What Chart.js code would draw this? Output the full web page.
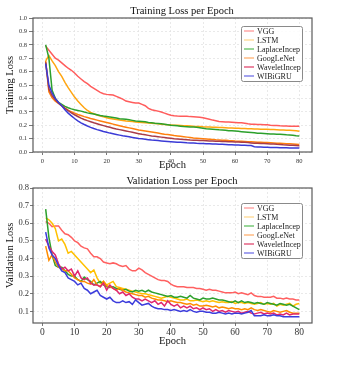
<!DOCTYPE html>
<html>
<head>
<meta charset="utf-8">
<script src="https://cdn.jsdelivr.net/npm/chart.js@4/dist/chart.umd.min.js"></script>
<style>
  html, body { margin: 0; padding: 0; background: #fff; overflow: hidden; }
  .panel { position: absolute; left: 0; width: 338px; }
  #p1 { top: 0; height: 175px; }
  #p2 { top: 175px; height: 190px; }
</style>
</head>
<body>
<div class="panel" id="p1"><canvas id="trainChart"></canvas></div>
<div class="panel" id="p2"><canvas id="valChart"></canvas></div>
<script>
// epochs 1..80
const epochs = Array.from({ length: 80 }, (_, i) => i + 1);
const models = ['VGG', 'LSTM', 'LaplaceIncep', 'GoogLeNet', 'WaveletIncep', 'WIBiGRU'];

// training loss
const trainVGG = [0.79,0.76,0.73,0.70,0.685,0.665,0.645,0.625,0.61,0.59,0.565,0.545,0.525,0.51,0.49,0.475,0.46,0.445,0.435,0.43,
  0.428,0.425,0.415,0.405,0.395,0.38,0.375,0.37,0.365,0.365,0.355,0.345,0.325,0.315,0.31,0.305,0.298,0.29,0.282,0.275,
  0.27,0.268,0.267,0.266,0.266,0.264,0.263,0.262,0.26,0.255,0.25,0.245,0.238,0.233,0.228,0.226,0.224,0.223,0.222,0.22,
  0.218,0.218,0.214,0.21,0.208,0.207,0.206,0.205,0.204,0.204,0.2,0.198,0.197,0.195,0.194,0.194,0.193,0.193,0.192,0.192];
const trainLSTM = [0.68,0.72,0.68,0.645,0.60,0.565,0.52,0.48,0.445,0.41,0.38,0.355,0.33,0.31,0.295,0.285,0.276,0.268,0.262,0.256,
  0.25,0.246,0.242,0.238,0.235,0.232,0.23,0.227,0.224,0.222,0.22,0.218,0.216,0.214,0.212,0.21,0.208,0.206,0.204,0.202,
  0.2,0.199,0.198,0.196,0.195,0.194,0.192,0.191,0.19,0.188,0.187,0.186,0.185,0.184,0.183,0.182,0.181,0.18,0.179,0.178,
  0.177,0.176,0.175,0.174,0.173,0.172,0.171,0.17,0.17,0.169,0.168,0.167,0.166,0.165,0.164,0.163,0.162,0.16,0.158,0.155];
const trainLaplace = [0.80,0.70,0.46,0.40,0.37,0.355,0.34,0.33,0.322,0.315,0.31,0.305,0.298,0.292,0.288,0.284,0.278,0.272,0.268,0.265,
  0.262,0.258,0.253,0.248,0.246,0.244,0.24,0.236,0.232,0.23,0.228,0.225,0.22,0.218,0.215,0.213,0.21,0.207,0.204,0.2,
  0.198,0.196,0.193,0.19,0.189,0.187,0.186,0.184,0.181,0.178,0.174,0.172,0.17,0.168,0.166,0.165,0.162,0.158,0.158,0.156,
  0.154,0.152,0.15,0.148,0.146,0.143,0.14,0.139,0.138,0.137,0.135,0.134,0.133,0.132,0.13,0.128,0.127,0.125,0.122,0.12];
const trainGoogLeNet = [0.68,0.45,0.405,0.38,0.362,0.345,0.328,0.312,0.3,0.29,0.28,0.272,0.264,0.257,0.25,0.244,0.238,0.232,0.226,0.22,
  0.214,0.208,0.202,0.196,0.19,0.185,0.18,0.175,0.17,0.165,0.161,0.157,0.153,0.149,0.145,0.141,0.137,0.133,0.13,0.127,
  0.123,0.12,0.117,0.114,0.111,0.108,0.105,0.103,0.101,0.099,0.097,0.095,0.093,0.091,0.09,0.088,0.087,0.085,0.084,0.082,
  0.081,0.08,0.079,0.077,0.076,0.075,0.073,0.072,0.071,0.07,0.069,0.068,0.066,0.065,0.064,0.062,0.061,0.06,0.058,0.056];
const trainWavelet = [0.67,0.47,0.42,0.39,0.365,0.345,0.325,0.308,0.292,0.278,0.265,0.253,0.243,0.234,0.226,0.218,0.211,0.204,0.197,0.19,
  0.184,0.178,0.172,0.167,0.162,0.157,0.152,0.147,0.142,0.137,0.132,0.128,0.124,0.12,0.117,0.114,0.111,0.108,0.105,0.102,
  0.099,0.097,0.095,0.093,0.091,0.089,0.088,0.087,0.086,0.085,0.084,0.083,0.082,0.081,0.08,0.079,0.078,0.077,0.076,0.075,
  0.074,0.073,0.072,0.07,0.068,0.066,0.065,0.064,0.063,0.062,0.06,0.059,0.057,0.056,0.054,0.053,0.051,0.05,0.048,0.046];
const trainWIBiGRU = [0.66,0.50,0.44,0.40,0.37,0.345,0.315,0.29,0.27,0.25,0.233,0.218,0.205,0.194,0.184,0.175,0.167,0.16,0.153,0.147,
  0.141,0.136,0.131,0.126,0.121,0.117,0.113,0.109,0.105,0.101,0.098,0.095,0.092,0.089,0.087,0.085,0.083,0.081,0.079,0.077,
  0.075,0.073,0.072,0.071,0.069,0.068,0.067,0.065,0.064,0.063,0.062,0.061,0.06,0.059,0.058,0.057,0.056,0.055,0.054,0.053,
  0.052,0.051,0.05,0.049,0.048,0.04,0.038,0.037,0.036,0.035,0.034,0.033,0.033,0.032,0.031,0.031,0.03,0.03,0.029,0.029];

// validation loss
const valVGG = [0.61,0.60,0.58,0.585,0.585,0.56,0.54,0.535,0.52,0.50,0.49,0.47,0.46,0.455,0.43,0.41,0.41,0.40,0.38,0.375,
  0.37,0.375,0.37,0.36,0.355,0.36,0.34,0.33,0.33,0.345,0.335,0.32,0.31,0.30,0.29,0.28,0.275,0.275,0.27,0.255,
  0.245,0.24,0.24,0.24,0.235,0.235,0.235,0.23,0.23,0.225,0.22,0.225,0.22,0.22,0.215,0.21,0.205,0.205,0.205,0.21,
  0.20,0.205,0.20,0.195,0.205,0.19,0.185,0.185,0.18,0.18,0.18,0.185,0.175,0.175,0.17,0.175,0.17,0.17,0.165,0.165];
const valLSTM = [0.63,0.62,0.60,0.57,0.50,0.51,0.48,0.43,0.44,0.42,0.40,0.38,0.36,0.34,0.32,0.335,0.29,0.26,0.27,0.25,
  0.26,0.27,0.24,0.235,0.23,0.225,0.22,0.215,0.21,0.205,0.20,0.20,0.195,0.19,0.185,0.18,0.175,0.18,0.185,0.18,
  0.175,0.17,0.165,0.165,0.17,0.16,0.16,0.165,0.16,0.155,0.16,0.155,0.16,0.155,0.15,0.155,0.15,0.15,0.155,0.145,
  0.15,0.15,0.145,0.15,0.145,0.14,0.145,0.15,0.14,0.145,0.14,0.145,0.13,0.14,0.135,0.14,0.145,0.13,0.14,0.145];
const valLaplace = [0.68,0.52,0.42,0.36,0.35,0.35,0.33,0.31,0.30,0.30,0.28,0.27,0.295,0.28,0.27,0.25,0.26,0.27,0.25,0.24,
  0.235,0.24,0.23,0.225,0.22,0.225,0.215,0.21,0.22,0.215,0.22,0.21,0.22,0.21,0.205,0.20,0.195,0.19,0.185,0.19,
  0.18,0.18,0.185,0.18,0.175,0.19,0.175,0.17,0.165,0.175,0.17,0.17,0.175,0.17,0.165,0.165,0.16,0.155,0.15,0.16,
  0.15,0.16,0.15,0.155,0.15,0.145,0.15,0.145,0.14,0.15,0.145,0.14,0.135,0.145,0.14,0.135,0.14,0.13,0.12,0.11];
const valGoogLeNet = [0.47,0.39,0.42,0.38,0.35,0.34,0.33,0.33,0.31,0.29,0.28,0.27,0.27,0.26,0.255,0.28,0.25,0.24,0.27,0.245,
  0.24,0.23,0.22,0.23,0.22,0.21,0.205,0.20,0.195,0.19,0.19,0.18,0.185,0.175,0.17,0.165,0.165,0.16,0.155,0.16,
  0.155,0.15,0.15,0.145,0.14,0.145,0.135,0.14,0.13,0.13,0.135,0.13,0.125,0.13,0.12,0.125,0.12,0.115,0.12,0.115,
  0.115,0.11,0.115,0.11,0.12,0.11,0.105,0.11,0.105,0.10,0.095,0.105,0.10,0.095,0.10,0.105,0.095,0.09,0.09,0.09];
const valWavelet = [0.51,0.47,0.44,0.42,0.37,0.34,0.35,0.33,0.34,0.30,0.33,0.29,0.28,0.29,0.26,0.25,0.25,0.24,0.26,0.22,
  0.25,0.23,0.22,0.20,0.21,0.19,0.20,0.18,0.17,0.17,0.16,0.17,0.16,0.15,0.16,0.14,0.15,0.13,0.16,0.14,
  0.13,0.14,0.12,0.13,0.12,0.13,0.115,0.12,0.11,0.12,0.11,0.115,0.10,0.11,0.10,0.105,0.095,0.105,0.10,0.095,
  0.10,0.09,0.095,0.10,0.09,0.085,0.09,0.095,0.085,0.09,0.085,0.09,0.08,0.085,0.08,0.09,0.08,0.085,0.085,0.085];
const valWIBiGRU = [0.55,0.46,0.42,0.40,0.36,0.33,0.32,0.29,0.28,0.27,0.25,0.26,0.23,0.22,0.20,0.21,0.22,0.19,0.18,0.17,
  0.18,0.16,0.15,0.15,0.16,0.15,0.155,0.14,0.165,0.15,0.135,0.14,0.145,0.13,0.12,0.115,0.115,0.11,0.11,0.105,
  0.11,0.105,0.10,0.105,0.10,0.11,0.10,0.095,0.10,0.10,0.095,0.095,0.09,0.09,0.095,0.09,0.085,0.09,0.085,0.09,
  0.09,0.085,0.09,0.095,0.105,0.075,0.075,0.075,0.08,0.075,0.075,0.08,0.075,0.075,0.07,0.07,0.07,0.07,0.07,0.07];

const trainSeries = [trainVGG, trainLSTM, trainLaplace, trainGoogLeNet, trainWavelet, trainWIBiGRU];
const valSeries = [valVGG, valLSTM, valLaplace, valGoogLeNet, valWavelet, valWIBiGRU];
const trainColors = ['#ff5c5c', '#ffa510', '#2ca02c', '#ff7f0e', '#a83c4a', '#3b3bd6'];
const valColors = ['#ff6060', '#ffc000', '#2ca02c', '#ff8c00', '#e0286e', '#3c3cdc'];
const legendColors = ['#ff9a9a', '#ffd890', '#62c062', '#ffb070', '#e04a70', '#7272e6'];
const trainYTicks = { min: 0, max: 1, step: 0.1 };
const valYTicks = { min: 0.034, max: 0.8, step: 0.1 };

const SERIF = '"Liberation Serif", "DejaVu Serif", serif';

// title centred over the plot like matplotlib does
const panelTitle = {
  id: 'panelTitle',
  afterDraw(chart, args, opts) {
    const ctx = chart.ctx;
    ctx.save();
    ctx.font = opts.size + 'px ' + SERIF;
    ctx.fillStyle = '#111';
    ctx.textAlign = 'center';
    ctx.textBaseline = 'middle';
    ctx.fillText(opts.text, opts.x, opts.y);
    ctx.restore();
  }
};

// box round the plot area
const frame = {
  id: 'frame',
  afterDatasetsDraw(chart) {
    const { ctx, chartArea: a } = chart;
    ctx.save();
    ctx.strokeStyle = '#5a5a5a';
    ctx.lineWidth = 1.2;
    ctx.strokeRect(a.left, a.top, a.right - a.left, a.bottom - a.top);
    ctx.restore();
  }
};

// legend box inside the upper right corner
const boxLegend = {
  id: 'boxLegend',
  afterDraw(chart, args, opts) {
    const { ctx, chartArea: a } = chart;
    const w = 61, h = 55, row = 9;
    const x = a.right - 10 - w;
    const y = a.top + opts.top;
    ctx.save();
    ctx.fillStyle = 'rgba(255,255,255,0.85)';
    ctx.strokeStyle = '#8a8a8a';
    ctx.lineWidth = 1;
    ctx.beginPath();
    ctx.roundRect(x + 0.5, y + 0.5, w, h, 2);
    ctx.fill();
    ctx.stroke();
    ctx.font = '8px ' + SERIF;
    ctx.textBaseline = 'middle';
    chart.data.datasets.forEach((ds, i) => {
      const cy = y + 5 + i * row;
      ctx.strokeStyle = legendColors[i];
      ctx.lineWidth = 1.3;
      ctx.beginPath();
      ctx.moveTo(x + 3, cy);
      ctx.lineTo(x + 13, cy);
      ctx.stroke();
      ctx.fillStyle = '#222';
      ctx.fillText(ds.label, x + 16, cy + 0.5);
    });
    ctx.restore();
  }
};

const makeDatasets = (series, colors) => series.map((vals, i) => ({
  label: models[i],
  data: vals.map((v, j) => ({ x: epochs[j], y: v })),
  borderColor: colors[i],
  backgroundColor: colors[i],
  borderWidth: 1.5,
  pointRadius: 0,
  tension: 0,
  order: series.length - i
}));

const makeChart = (canvasId, cfg) => new Chart(document.getElementById(canvasId), {
  type: 'line',
  data: { datasets: makeDatasets(cfg.series, cfg.colors) },
  plugins: [frame, boxLegend, panelTitle],
  options: {
    responsive: true,
    maintainAspectRatio: false,
    animation: false,
    devicePixelRatio: 1,
    layout: { padding: { top: cfg.padTop, right: 26, left: 0, bottom: 0 } },
    plugins: {
      legend: { display: false },
      tooltip: { enabled: false },
      title: { display: false },
      panelTitle: { text: cfg.title, x: 182, y: cfg.titleY, size: 10.5 },
      boxLegend: { top: cfg.legendTop }
    },
    scales: {
      x: {
        type: 'linear',
        min: -2.95,
        max: 83.95,
        border: { display: false, dash: [2, 2] },
        grid: { color: '#e4e4e4', lineWidth: 0.8, tickLength: cfg.xTickLen, tickColor: '#555', tickBorderDash: [] },
        ticks: {
          stepSize: 10, includeBounds: false, padding: cfg.xTickPad, color: '#333',
          font: { family: SERIF, size: cfg.xTickSize }, maxRotation: 0
        },
        title: {
          display: true, text: 'Epoch', color: '#111',
          font: { family: SERIF, size: 10.5 }, padding: { top: 0, bottom: cfg.epochPad }
        },
        afterFit: (s) => { s.height = cfg.xHeight; }
      },
      y: {
        min: cfg.yTicks.min,
        max: cfg.yTicks.max,
        border: { display: false, dash: [2, 2] },
        grid: { color: '#e4e4e4', lineWidth: 0.8, tickLength: cfg.yTickLen, tickColor: '#555', tickBorderDash: [] },
        ticks: {
          stepSize: cfg.yTicks.step, includeBounds: false, padding: cfg.yTickPad, color: '#333',
          font: { family: SERIF, size: cfg.yTickSize },
          callback: (v) => v.toFixed(1)
        },
        title: {
          display: true, text: cfg.yTitle, color: '#111',
          font: { family: SERIF, size: 10.5 }, padding: { top: 4, bottom: 0 }
        },
        afterFit: (s) => { s.width = 33; }
      }
    }
  }
});

makeChart('trainChart', {
  series: trainSeries, colors: trainColors, title: 'Training Loss per Epoch', titleY: 11,
  yTitle: 'Training Loss', yTicks: trainYTicks, padTop: 18, legendTop: 8,
  xHeight: 23, xTickLen: 3, xTickPad: 2, xTickSize: 6.5, epochPad: 3,
  yTickLen: 4, yTickPad: 2, yTickSize: 6.5
});

makeChart('valChart', {
  series: valSeries, colors: valColors, title: 'Validation Loss per Epoch', titleY: 6,
  yTitle: 'Validation Loss', yTicks: valYTicks, padTop: 13, legendTop: 15,
  xHeight: 42, xTickLen: 3, xTickPad: 1, xTickSize: 9.5, epochPad: 17,
  yTickLen: 3, yTickPad: 1, yTickSize: 8.5
});
</script>
</body>
</html>
